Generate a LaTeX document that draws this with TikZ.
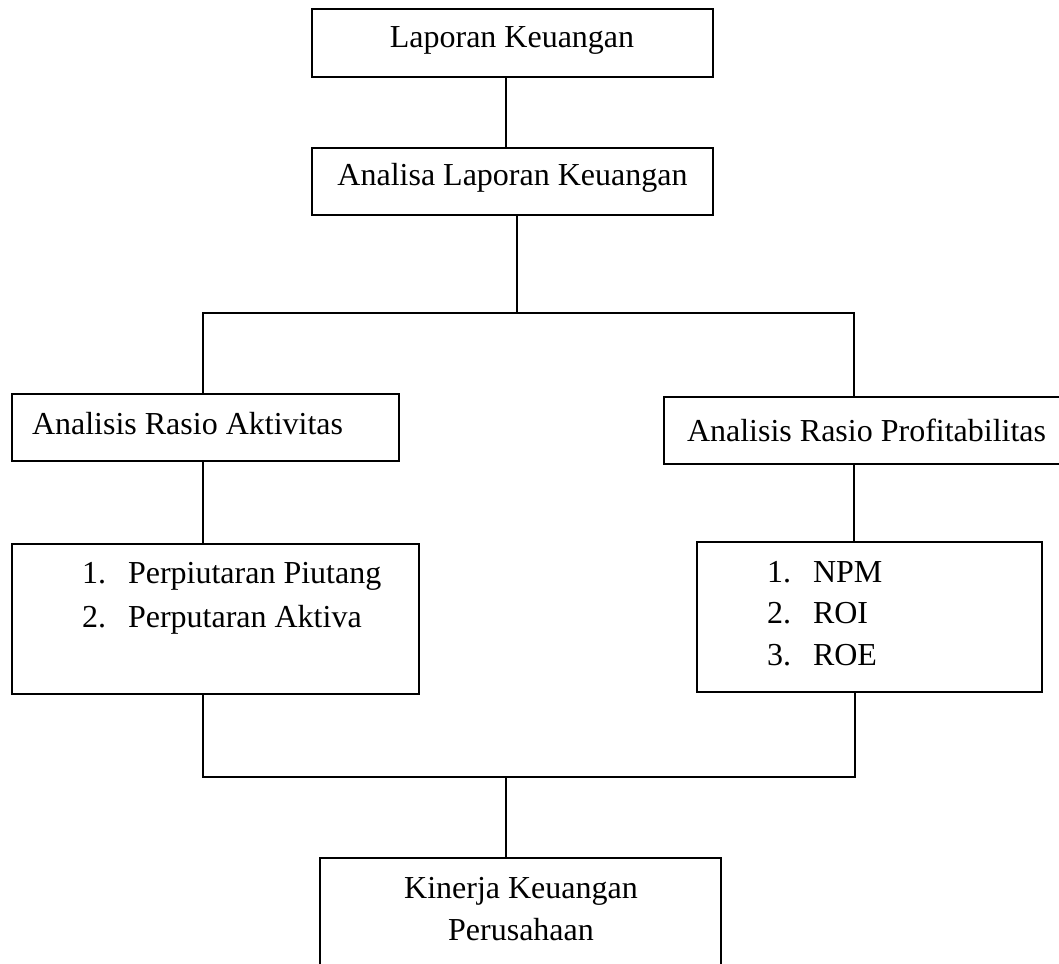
\documentclass[tikz,border=0pt]{standalone}
\usepackage{fontspec}
\setmainfont{Liberation Serif}
\tikzset{
  box/.style={draw, line width=1.5pt, inner sep=0pt, outer sep=0pt, rectangle},
  lbl/.style={inner sep=0pt, outer sep=0pt, font=\fontsize{32}{40}\selectfont},
  conn/.style={line width=1.5pt}
}
\begin{document}
\begin{tikzpicture}[x=1pt, y=-1pt]
\useasboundingbox (0,0) rectangle (1059,963);
\clip (0,0) rectangle (1059,963);
% boxes
\node[box, minimum width=401pt, minimum height=68pt] (b1) at (512.5,43) {};
\node[box, minimum width=401pt, minimum height=67pt] (b2) at (512.5,181.5) {};
\node[box, minimum width=387pt, minimum height=67pt] (b3) at (205.5,427.5) {};
\node[box, minimum width=406pt, minimum height=67pt] (b4) at (867,430.5) {};
\node[box, minimum width=407pt, minimum height=150pt] (b5) at (215.5,619) {};
\node[box, minimum width=345pt, minimum height=150pt] (b6) at (869.5,617) {};
\node[box, minimum width=401pt, minimum height=150pt] (b7) at (520.5,933) {};
% texts
\node[lbl, anchor=base] (t1) at (512,48) {Laporan Keuangan};
\node[lbl, anchor=base] (t2) at (512.5,185) {Analisa Laporan Keuangan};
\node[lbl, anchor=base west] (t3) at (32,434) {Analisis Rasio Aktivitas};
\node[lbl, anchor=base west] (t4) at (687,441) {Analisis Rasio Profitabilitas};
\node[lbl, anchor=base west] (n51) at (82,583) {1.};
\node[lbl, anchor=base west] (t51) at (128,583) {Perpiutaran Piutang};
\node[lbl, anchor=base west] (n52) at (82,627) {2.};
\node[lbl, anchor=base west] (t52) at (128,627) {Perputaran Aktiva};
\node[lbl, anchor=base west] (n61) at (767,582) {1.};
\node[lbl, anchor=base west] (t61) at (813,582) {NPM};
\node[lbl, anchor=base west] (n62) at (767,623) {2.};
\node[lbl, anchor=base west] (t62) at (813,623) {ROI};
\node[lbl, anchor=base west] (n63) at (767,665) {3.};
\node[lbl, anchor=base west] (t63) at (813,665) {ROE};
\node[lbl, anchor=base] (t71) at (521,898) {Kinerja Keuangan};
\node[lbl, anchor=base] (t72) at (521,940) {Perusahaan};
% junction coordinates
\coordinate (jt) at (517,313);
\coordinate (tl) at (203,313);
\coordinate (tr) at (854,313);
\coordinate (bl) at (203,777);
\coordinate (br) at (855,777);
\coordinate (jb) at (506,777);
% connectors
\draw[conn] (b1.south -| jb) -- (b2.north -| jb);
\draw[conn] (b2.south -| jt) -- (jt);
\draw[conn] (b3.north -| tl) -- (tl) -- (tr) -- (b4.north -| tr);
\draw[conn] (b3.south -| tl) -- (b5.north -| tl);
\draw[conn] (b4.south -| tr) -- (b6.north -| tr);
\draw[conn] (b5.south -| bl) -- (bl) -- (br) -- (b6.south -| br);
\draw[conn] (jb) -- (b7.north -| jb);
\end{tikzpicture}
\end{document}
